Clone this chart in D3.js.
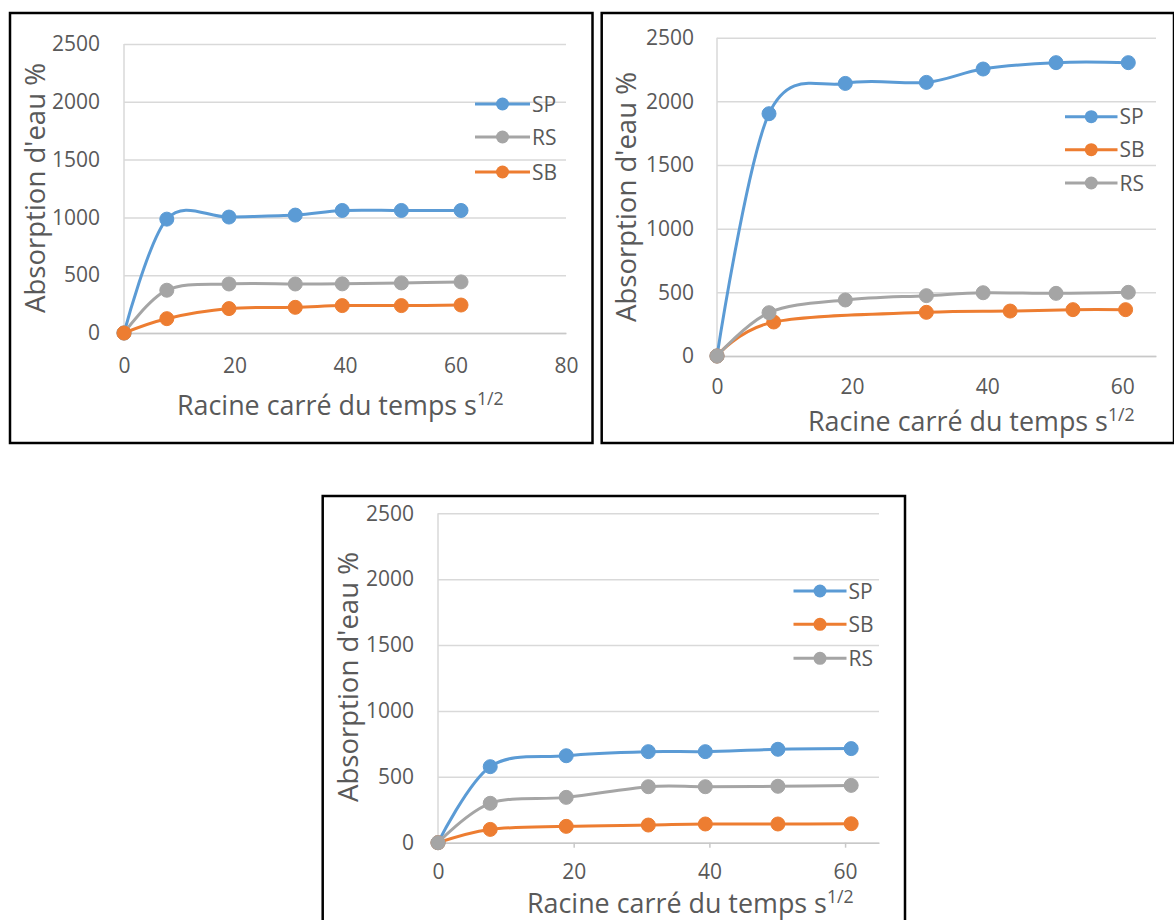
<!DOCTYPE html>
<html><head><meta charset="utf-8">
<script src="https://cdn.jsdelivr.net/npm/d3@7"></script>
<style>
body{margin:0;background:#fff}
svg{display:block}
text{font-family:"Open Sans",sans-serif;fill:#595959}
</style>
</head><body>
<svg id="c" width="1174" height="920"></svg>
<script>
// ---------- DATA ----------
const yTicks = [0, 500, 1000, 1500, 2000, 2500];
const xTicksA = [0, 20, 40, 60, 80];
const xTicksB = [0, 20, 40, 60];
const yTitle = "Absorption d'eau %";
const xTitle = "Racine carré du temps s";
const xTitleSup = "1/2";

// Panel 1 (top left)
const p1Names = ["SP", "RS", "SB"];
const p1X  = [0, 7.75, 19, 31, 39.5, 50.2, 61];
const p1SP = [0, 985, 1003, 1020, 1060, 1060, 1060];
const p1RS = [0, 370, 424, 424, 425, 433, 442];
const p1SB = [0, 124, 211, 222, 237, 237, 242];

// Panel 2 (top right)
const p2Names = ["SP", "SB", "RS"];
const p2X   = [0, 7.7, 19, 31, 39.4, 50.2, 60.9];
const p2SP  = [0, 1903, 2141, 2149, 2254, 2304, 2304];
const p2SBX = [0, 8.4, 31, 43.4, 52.7, 60.5];
const p2SB  = [0, 267, 343, 353, 364, 364];
const p2RS  = [0, 340, 440, 474, 497, 492, 500];

// Panel 3 (bottom)
const p3Names = ["SP", "SB", "RS"];
const p3X  = [0, 7.7, 18.9, 31, 39.4, 50.1, 60.9];
const p3SP = [0, 577, 660, 691, 691, 709, 714];
const p3SB = [0, 101, 124, 134, 142, 142, 144];
const p3RS = [0, 299, 344, 425, 425, 428, 435];

// ---------- STYLE / LAYOUT ----------
const color = {SP: "#5B9BD5", SB: "#ED7D31", RS: "#A5A5A5"};
const zip = (xs, ys) => xs.map((v, i) => [v, ys[i]]);

const panels = [
  {
    border: [10, 13, 592.5, 443],
    px0: 124, px1: 566, py0: 333, py1: 44, xDomain: [0, 80], xTicks: xTicksA,
    labelRight: 100, xLabelY: 365, tickLen: 0,
    yTitleX: 35, yTitleY: 188,
    xTitleX: 177, xTitleY: 415,
    legend: {x0: 475, x1: 530, ys: [104, 137, 172]},
    series: [
      {name: p1Names[0], pts: zip(p1X, p1SP)},
      {name: p1Names[1], pts: zip(p1X, p1RS)},
      {name: p1Names[2], pts: zip(p1X, p1SB)}
    ]
  },
  {
    border: [601.7, 13, 1174, 443],
    px0: 717, px1: 1156, py0: 356, py1: 37.7, xDomain: [0, 65], xTicks: xTicksB,
    labelRight: 694, xLabelY: 386, tickLen: 0,
    yTitleX: 626, yTitleY: 197,
    xTitleX: 808, xTitleY: 431,
    legend: {x0: 1065, x1: 1117.5, ys: [116.7, 149.7, 183]},
    series: [
      {name: p2Names[0], pts: zip(p2X, p2SP)},
      {name: p2Names[1], pts: zip(p2SBX, p2SB)},
      {name: p2Names[2], pts: zip(p2X, p2RS)}
    ]
  },
  {
    border: [322.7, 496, 905, 930],
    px0: 438, px1: 879, py0: 842.7, py1: 513.3, xDomain: [0, 65], xTicks: xTicksB,
    labelRight: 414, xLabelY: 871.5, tickLen: 5,
    yTitleX: 348, yTitleY: 677,
    xTitleX: 527, xTitleY: 913,
    legend: {x0: 793.5, x1: 846.5, ys: [591, 624.3, 658.3]},
    series: [
      {name: p3Names[0], pts: zip(p3X, p3SP)},
      {name: p3Names[1], pts: zip(p3X, p3SB)},
      {name: p3Names[2], pts: zip(p3X, p3RS)}
    ]
  }
];

const svg = d3.select("#c");

function fitWidth(sel, target) {
  const base = 100;
  sel.attr("font-size", base);
  const w = sel.node().getComputedTextLength();
  sel.attr("font-size", base * target / w);
}

function drawPanel(cfg) {
  const g = svg.append("g");
  const [bx0, by0, bx1, by1] = cfg.border;
  g.append("rect").attr("x", bx0).attr("y", by0).attr("width", bx1 - bx0).attr("height", by1 - by0)
    .attr("fill", "#fff").attr("stroke", "#000").attr("stroke-width", 2.5);

  const x = d3.scaleLinear().domain(cfg.xDomain).range([cfg.px0, cfg.px1]);
  const y = d3.scaleLinear().domain([0, 2500]).range([cfg.py0, cfg.py1]);

  // Y axis + gridlines
  const gy = g.append("g").attr("transform", `translate(${cfg.px0},0)`)
    .call(d3.axisLeft(y).tickValues(yTicks).tickFormat(d3.format("d"))
      .tickSize(-(cfg.px1 - cfg.px0)).tickPadding(cfg.px0 - cfg.labelRight));
  gy.select(".domain").remove();
  gy.selectAll(".tick line").attr("stroke", "#D9D9D9").attr("stroke-width", 1.5);
  gy.selectAll(".tick text").attr("font-size", 21).attr("font-family", "Open Sans").attr("fill", "#595959");

  // vertical axis line
  g.append("line").attr("x1", cfg.px0).attr("x2", cfg.px0).attr("y1", cfg.py0).attr("y2", cfg.py1)
    .attr("stroke", "#D9D9D9").attr("stroke-width", 1.5);

  // X axis
  const gx = g.append("g").attr("transform", `translate(0,${cfg.py0})`)
    .call(d3.axisBottom(x).tickValues(cfg.xTicks).tickFormat(d3.format("d")).tickSize(cfg.tickLen).tickSizeOuter(0));
  gx.select(".domain").attr("stroke", "#C8C8C8").attr("stroke-width", 1.5);
  gx.selectAll(".tick line").attr("stroke", "#C8C8C8").attr("stroke-width", 1.5);
  gx.selectAll(".tick text").attr("font-size", 21).attr("font-family", "Open Sans").attr("fill", "#595959")
    .attr("y", cfg.xLabelY - cfg.py0).attr("dy", "0.36em");

  // Lines
  const line = d3.line().x(d => x(d[0])).y(d => y(d[1])).curve(d3.curveCardinal.tension(0));
  cfg.series.forEach(s => {
    g.append("path").datum(s.pts).attr("d", line).attr("fill", "none")
      .attr("stroke", color[s.name]).attr("stroke-width", 3).attr("stroke-linejoin", "round");
    g.selectAll(null).data(s.pts).enter().append("circle")
      .attr("cx", d => x(d[0])).attr("cy", d => y(d[1])).attr("r", 7)
      .attr("fill", color[s.name]).attr("stroke", color[s.name]).attr("stroke-width", 1);
  });

  // Legend
  cfg.series.forEach((s, i) => {
    const ly = cfg.legend.ys[i];
    g.append("line").attr("x1", cfg.legend.x0).attr("x2", cfg.legend.x1).attr("y1", ly).attr("y2", ly)
      .attr("stroke", color[s.name]).attr("stroke-width", 3);
    g.append("circle").attr("cx", (cfg.legend.x0 + cfg.legend.x1) / 2).attr("cy", ly).attr("r", 6.5)
      .attr("fill", color[s.name]);
    g.append("text").attr("x", cfg.legend.x1 + 2).attr("y", ly).attr("dy", "0.36em")
      .attr("font-size", 21).text(s.name);
  });

  // Y title
  const yt = g.append("text").attr("transform", `translate(${cfg.yTitleX},${cfg.yTitleY}) rotate(-90)`)
    .attr("text-anchor", "middle").attr("dy", "0.36em").text(yTitle);
  fitWidth(yt, 250);

  // X title
  const xt = g.append("text").attr("x", cfg.xTitleX).attr("y", cfg.xTitleY);
  const main = xt.append("tspan").text(xTitle);
  xt.attr("font-size", 100);
  const w = main.node().getComputedTextLength();
  const fs = 100 * 300 / w;
  xt.attr("font-size", fs);
  xt.append("tspan").attr("font-size", fs * 0.66).attr("dy", -fs * 0.36).text(xTitleSup);
}

panels.forEach(drawPanel);
</script>
</body></html>
